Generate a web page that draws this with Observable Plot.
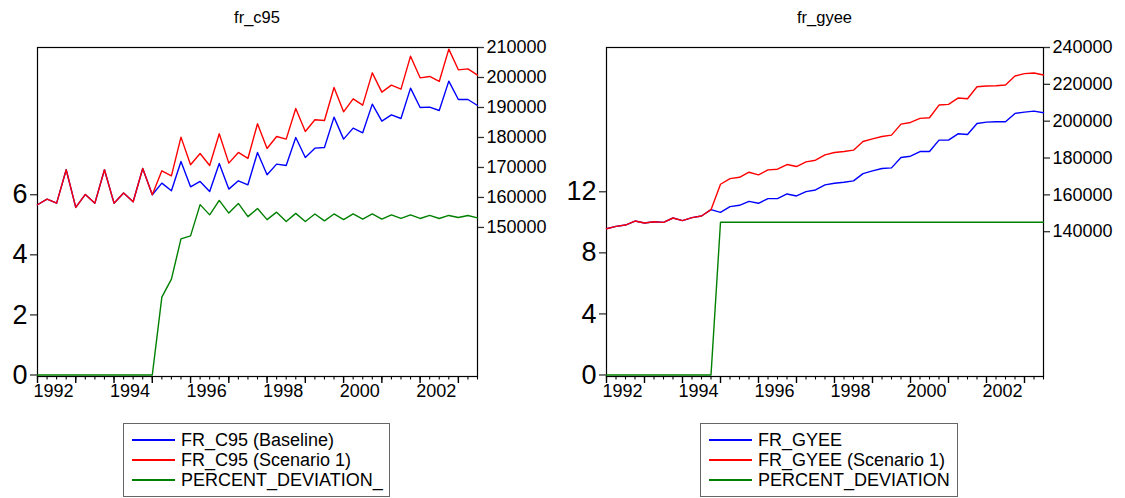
<!DOCTYPE html>
<html><head><meta charset="utf-8">
<script src="https://cdn.jsdelivr.net/npm/d3@7"></script>
<script src="https://cdn.jsdelivr.net/npm/@observablehq/plot@0.6"></script>
<style>
body{margin:0;background:#fff;font-family:"Liberation Sans",Arial,sans-serif;}
#root{position:relative;width:1125px;height:498px;overflow:hidden;background:#fff;}
.panel{position:absolute;top:0;height:410px;}
.panel svg{position:absolute;left:0;top:0;}
.title{position:absolute;top:9px;font-size:16.5px;line-height:1;transform:translateX(-50%);white-space:nowrap;color:#000;}
.legend{position:absolute;top:423px;height:74px;border:1px solid #666;box-sizing:border-box;font-size:18px;color:#000;}
.row{position:absolute;left:0;height:20px;line-height:20px;white-space:nowrap;width:100%;}
.sw{position:absolute;left:8px;top:9px;width:43px;height:0;border-top:2px solid;}
.lbl{position:absolute;left:57px;top:0;}
</style></head><body><div id="root"></div>
<script>
const periods = ["1992Q1","1992Q2","1992Q3","1992Q4","1993Q1","1993Q2","1993Q3","1993Q4",
"1994Q1","1994Q2","1994Q3","1994Q4","1995Q1","1995Q2","1995Q3","1995Q4",
"1996Q1","1996Q2","1996Q3","1996Q4","1997Q1","1997Q2","1997Q3","1997Q4",
"1998Q1","1998Q2","1998Q3","1998Q4","1999Q1","1999Q2","1999Q3","1999Q4",
"2000Q1","2000Q2","2000Q3","2000Q4","2001Q1","2001Q2","2001Q3","2001Q4",
"2002Q1","2002Q2","2002Q3","2002Q4","2003Q1","2003Q2","2003Q3"];

const c95Baseline = [157560,159450,158100,169225,156670,161000,158100,169225,158100,161450,158560,169670,
160890,164780,162226,172000,163560,165340,162000,171336,162780,165560,164225,175000,
167560,171114,170670,180000,173336,176447,176670,186779,179447,183113,181557,191112,
185446,187557,186335,196445,190001,190112,189001,198778,192667,192667,190667];
const c95Scenario = [157560,159450,158100,169225,156670,161000,158100,169225,158100,161450,158560,169670,
160890,168890,167220,180113,170890,174670,170670,181224,171450,175000,173000,184557,
176336,180336,179446,189668,182000,185890,185668,196667,188557,192890,190779,201555,
195112,197445,196112,207110,199889,200333,198667,209444,202555,202889,200778];
const c95Deviation = [0,0,0,0,0,0,0,0,0,0,0,0,0,
2.59,3.19,4.53,4.63,5.67,5.33,5.81,5.39,5.71,5.27,5.54,5.17,5.42,5.11,5.38,5.11,5.36,5.13,5.36,5.17,
5.36,5.19,5.36,5.19,5.33,5.21,5.33,5.21,5.31,5.21,5.31,5.24,5.31,5.23];

const gyeeBaseline = [141632,142900,143625,145800,144716,145440,145080,147440,146000,147620,148525,151972,
150520,153600,154330,156500,155420,157960,157960,160500,159410,161770,162675,165395,
166300,166850,167570,171560,173010,174285,174645,180270,180995,183535,183535,189700,
189700,193150,192790,198770,199500,199680,199680,204215,204940,205485,204580];
const gyeeScenario = [141632,142900,143625,145800,144716,145440,145080,147440,146000,147620,148525,151972,
165760,168840,169560,172290,170840,173560,173920,176460,175370,177910,178820,181720,
183000,183535,184260,188980,190430,191700,192425,198410,199320,201500,201860,208750,
209110,212560,212200,218725,219090,219270,219630,224530,225800,226165,225075];
const gyeeDeviation = [0,0,0,0,0,0,0,0,0,0,0,0,
10,10,10,10,10,10,10,10,10,10,10,10,10,10,10,10,10,10,10,10,10,10,10,10,10,10,10,10,10,10,10,10,10,10,10];

const yearTicks = [1992,1993,1994,1995,1996,1997,1998,1999,2000,2001,2002,2003];
const yearLabels = [1992,1994,1996,1998,2000,2002];
const c95LeftTicks = [0,2,4,6];
const c95RightTicks = [150000,160000,170000,180000,190000,200000,210000];
const gyeeLeftTicks = [0,4,8,12];
const gyeeRightTicks = [140000,160000,180000,200000,220000,240000];

const xpos = periods.map(p => +p.slice(0,4) + (+p.slice(5) - 1) / 4);

const BLUE = "#0000ff", RED = "#ff0000", GREEN = "#008000";
const FONT = "'Liberation Sans', Arial, sans-serif";

function makePanel(cfg) {
  const root = document.getElementById("root");
  const div = document.createElement("div");
  div.className = "panel";
  div.style.left = cfg.left + "px";
  div.style.width = cfg.width + "px";
  root.appendChild(div);

  const H = 410;
  const common = {
    width: cfg.width, height: H,
    marginTop: 47, marginBottom: 34, marginLeft: cfg.marginLeft, marginRight: cfg.marginRight,
    style: {fontFamily: FONT, fontSize: "18px", background: "transparent", color: "#000"}
  };
  const dev = xpos.map((x, i) => ({x, v: cfg.deviation[i]}));
  const base = xpos.map((x, i) => ({x, v: cfg.baseline[i]}));
  const scen = xpos.map((x, i) => ({x, v: cfg.scenario[i]}));

  const pLeft = Plot.plot({
    ...common,
    x: {domain: [1992, 2003.5]},
    y: {domain: cfg.leftDomain},
    marks: [
      Plot.frame({stroke: "#000", strokeWidth: 1.2}),
      Plot.axisY({ticks: cfg.leftTicks, tickSize: 7, tickPadding: 3, fontSize: 27, label: null,
        tickFormat: d => String(d), stroke: "#333", strokeWidth: 1.3}),
      Plot.axisX({ticks: yearTicks, tickSize: 7, tickFormat: () => "", label: null, stroke: "#000", strokeWidth: 1.4}),
      Plot.axisX({ticks: xpos, tickSize: 3.5, tickFormat: () => "", label: null, stroke: "#000", strokeWidth: 1.1}),
      Plot.axisX({ticks: yearLabels.map(y => y + 0.42), tickSize: 0, tickPadding: 8, fontSize: 18,
        tickFormat: d => String(Math.round(d - 0.42)), label: null}),
      Plot.line(dev, {x: "x", y: "v", stroke: GREEN, strokeWidth: 1.4})
    ]
  });
  const pRight = Plot.plot({
    ...common,
    x: {domain: [1992, 2003.5], axis: null},
    y: {domain: cfg.rightDomain},
    marks: [
      Plot.axisY({anchor: "right", ticks: cfg.rightTicks, tickSize: 6, tickPadding: 3, fontSize: 18,
        label: null, tickFormat: d => String(d), stroke: "#333", strokeWidth: 1.3}),
      Plot.line(base, {x: "x", y: "v", stroke: BLUE, strokeWidth: 1.4}),
      Plot.line(scen, {x: "x", y: "v", stroke: RED, strokeWidth: 1.4})
    ]
  });
  div.appendChild(pLeft);
  div.appendChild(pRight);

  const t = document.createElement("div");
  t.className = "title";
  t.textContent = cfg.title;
  t.style.left = (cfg.left + cfg.marginLeft + (cfg.width - cfg.marginLeft - cfg.marginRight) / 2) + "px";
  root.appendChild(t);

  const lg = document.createElement("div");
  lg.className = "legend";
  lg.style.left = cfg.legendLeft + "px";
  lg.style.width = cfg.legendWidth + "px";
  cfg.legend.forEach((name, i) => {
    const r = document.createElement("div");
    r.className = "row";
    r.style.top = (6 + i * 20) + "px";
    const sw = document.createElement("span");
    sw.className = "sw";
    sw.style.borderTopColor = [BLUE, RED, GREEN][i];
    const lb = document.createElement("span");
    lb.className = "lbl";
    lb.textContent = name;
    r.appendChild(sw); r.appendChild(lb);
    lg.appendChild(r);
  });
  root.appendChild(lg);
}

makePanel({
  title: "fr_c95", left: 0, width: 562, marginLeft: 37, marginRight: 85,
  leftDomain: [-0.05, 10.9], leftTicks: c95LeftTicks,
  rightDomain: [100300, 210000], rightTicks: c95RightTicks,
  baseline: c95Baseline, scenario: c95Scenario, deviation: c95Deviation,
  legend: ["FR_C95 (Baseline)", "FR_C95 (Scenario 1)", "PERCENT_DEVIATION_"],
  legendLeft: 123, legendWidth: 267
});
makePanel({
  title: "fr_gyee", left: 562, width: 563, marginLeft: 44, marginRight: 82,
  leftDomain: [-0.1, 21.45], leftTicks: gyeeLeftTicks,
  rightDomain: [61400, 240000], rightTicks: gyeeRightTicks,
  baseline: gyeeBaseline, scenario: gyeeScenario, deviation: gyeeDeviation,
  legend: ["FR_GYEE", "FR_GYEE (Scenario 1)", "PERCENT_DEVIATION"],
  legendLeft: 700, legendWidth: 258
});
</script></body></html>
